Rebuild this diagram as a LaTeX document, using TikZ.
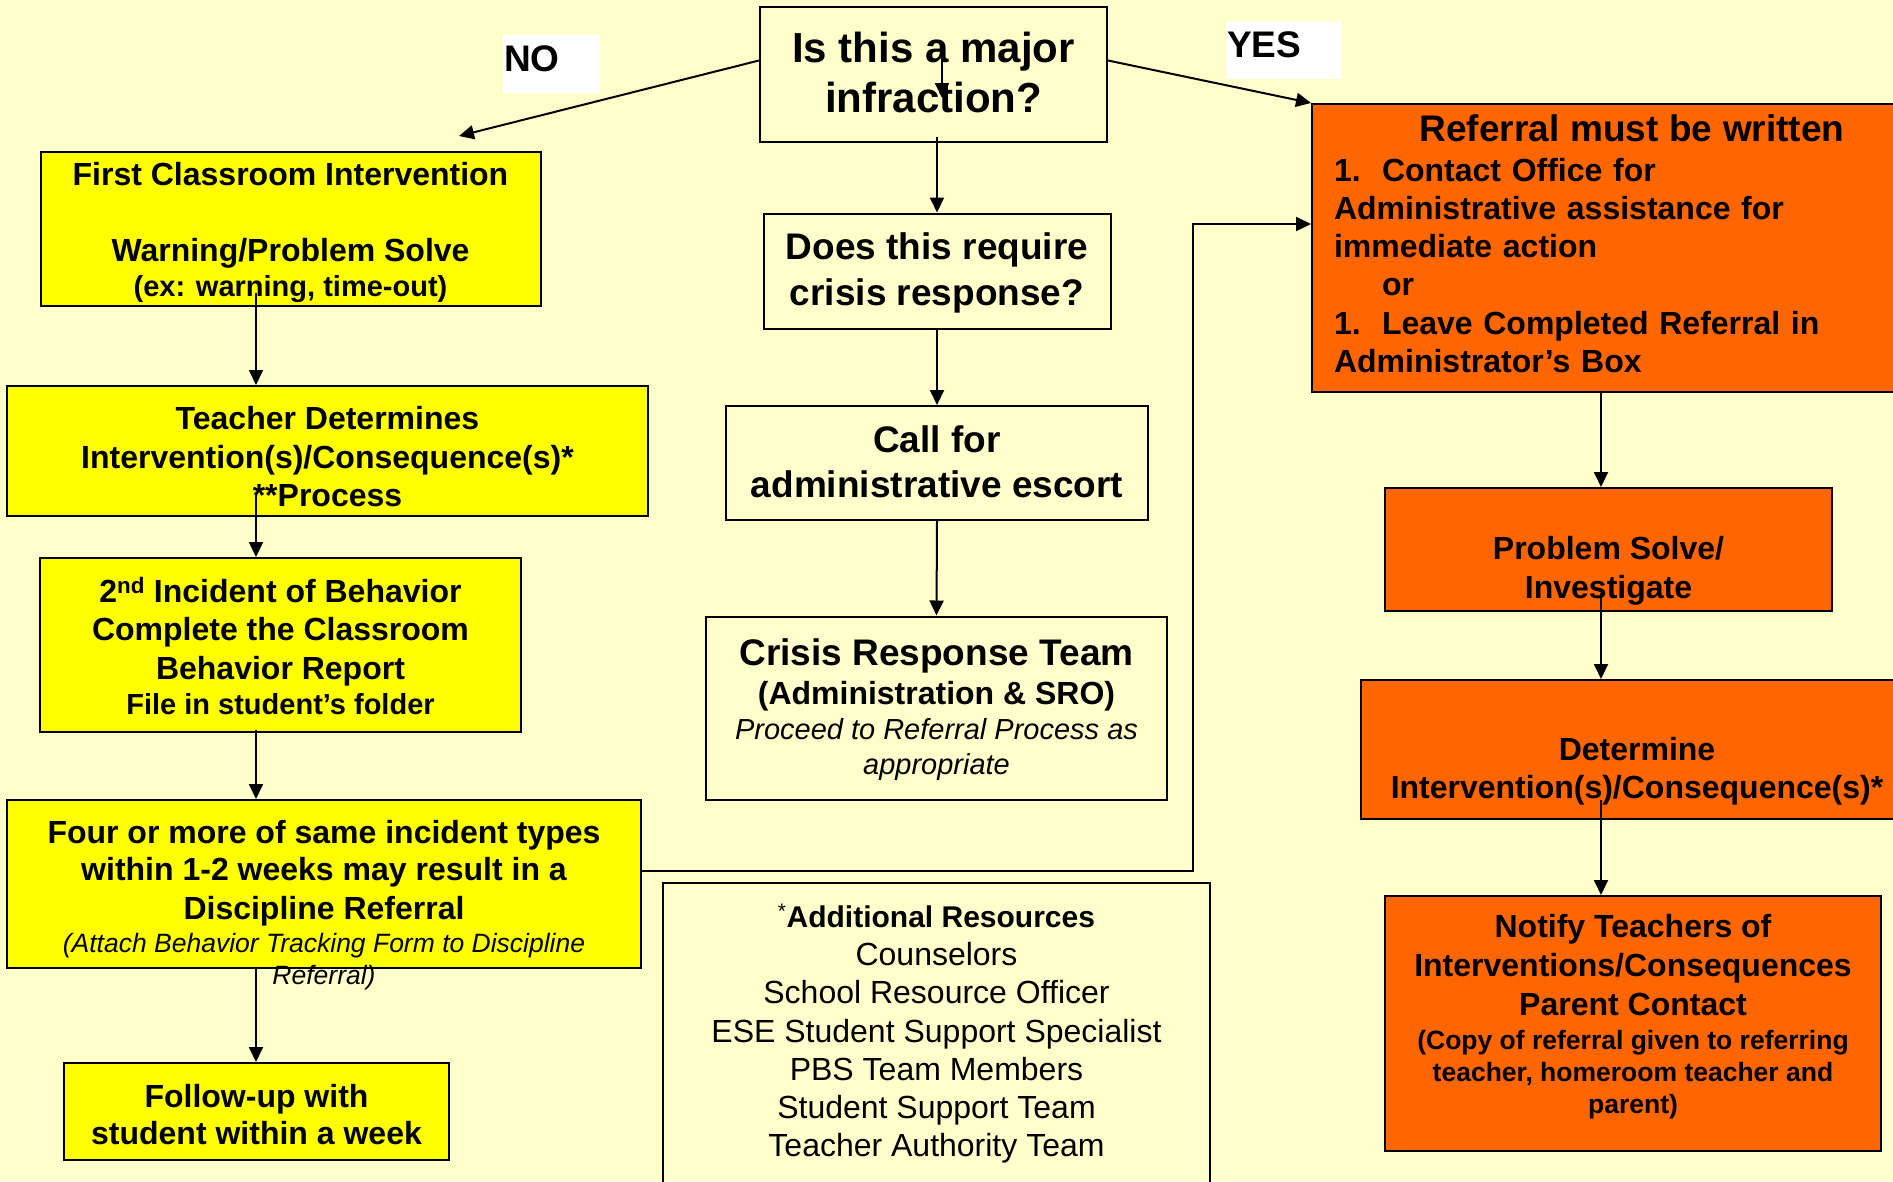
\documentclass[tikz,border=0pt]{standalone}
\usepackage{fontspec}
\setmainfont{Liberation Sans}
\usetikzlibrary{arrows.meta}
\definecolor{bgc}{HTML}{FFFFCC}
\definecolor{ylw}{HTML}{FFFF00}
\definecolor{orng}{HTML}{FF6600}
\newcommand\tup[1]{\rule{0pt}{#1pt}}
\newcommand\tdn[1]{\rule[-#1pt]{0pt}{#1pt}}
\begin{document}
\begin{tikzpicture}[x=1pt,y=-1pt,
  bx/.style={draw=black, line width=2pt, inner sep=0pt, align=center, font=\bfseries\fontsize{32}{38}\selectfont},
  ybx/.style={bx, fill=ylw},
  obx/.style={bx, fill=orng},
  wbx/.style={bx},
  arr/.style={line width=2pt, -{Triangle[length=15pt,width=14pt]}},
  lbl/.style={fill=white, inner xsep=1pt, inner ysep=7pt, text height=29pt, text depth=15pt, anchor=north west, align=left, font=\bfseries\fontsize{37}{44}\selectfont}
]
\useasboundingbox (0,0) rectangle (1893,1181);
\clip (0,0) rectangle (1893,1181);
\fill[bgc] (0,0) rectangle (1893,1181);

% labels
\node[lbl, text width=95pt] (nolbl) at (503,35) {NO};
\node[lbl, text width=113pt] (yeslbl) at (1226,21) {YES};

% centre column
\node[wbx, minimum width=347pt, minimum height=135pt, font=\bfseries\fontsize{42}{50}\selectfont] (maj) at (933.5,74.5) {\tup{40}Is this a major\\infraction?\tdn{15}};
\node[wbx, minimum width=347pt, minimum height=115pt, font=\bfseries\fontsize{37}{46}\selectfont] (does) at (937,271) {\tup{34}Does this require\\crisis response?\tdn{12}};
\node[wbx, minimum width=422pt, minimum height=114pt, font=\bfseries\fontsize{37}{45}\selectfont] (call) at (937,463) {\tup{35}Call for\\administrative escort\tdn{12}};
\node[wbx, minimum width=461pt, minimum height=183pt, font=\bfseries\fontsize{29}{35}\selectfont] (crisis) at (936.5,708) {{\fontsize{37}{35}\selectfont\tup{33}Crisis Response Team}\\[4pt]{\fontsize{32}{35}\selectfont(Administration \& SRO)}\\{\mdseries\itshape Proceed to Referral Process as}\\{\mdseries\itshape appropriate\tdn{10}}};
\node[wbx, minimum width=547pt, minimum height=302pt, font=\mdseries\fontsize{32}{38.2}\selectfont] (addl) at (936.5,1034) {\tup{26}{\bfseries\fontsize{30}{38.2}\selectfont{\mdseries\textsuperscript{*}}Additional Resources}\\Counselors\\School Resource Officer\\ESE Student Support Specialist\\PBS Team Members\\Student Support Team\\Teacher Authority Team\tdn{10}};

% right column
\node[obx, minimum width=640pt, minimum height=288pt, text width=596pt, align=left, font=\bfseries\fontsize{32}{38.3}\selectfont] (ref) at (1632,248) {\tup{29}\makebox[596pt][c]{\fontsize{37}{38.3}\selectfont Referral must be written}\\[1.7pt]
\makebox[48pt][l]{1.}Contact Office for\\
Administrative assistance for\\
immediate action\\
\hspace*{48pt}or\\
\makebox[48pt][l]{1.}Leave Completed Referral in\\
Administrator’s Box\tdn{11.5}};
\node[obx, minimum width=447pt, minimum height=123pt, font=\bfseries\fontsize{32}{39}\selectfont] (ps) at (1608.5,549.5) {\tup{68}Problem Solve/\\Investigate\tdn{10}};
\node[obx, minimum width=552pt, minimum height=139pt] (det) at (1637,749.5) {\tup{69}Determine\\Intervention(s)/Consequence(s)*\tdn{10}};
\node[obx, minimum width=496pt, minimum height=255pt, font=\bfseries\fontsize{26.5}{32}\selectfont] (notify) at (1633,1023.5) {{\fontsize{32}{32}\selectfont\tup{25}Notify Teachers of}\\[7pt]{\fontsize{32}{32}\selectfont Interventions/Consequences}\\[7pt]{\fontsize{32}{32}\selectfont Parent Contact}\\[2pt](Copy of referral given to referring\\[-0.5pt]teacher, homeroom teacher and\\parent)\tdn{21.5}};

% left column
\node[ybx, minimum width=500pt, minimum height=154pt] (fci) at (290.5,228.5) {\tup{33}First Classroom Intervention\\\mbox{}\\Warning/Problem Solve\\[-3pt]{\fontsize{29}{35}\selectfont(ex: warning, time-out)\tdn{8}}};
\node[ybx, minimum width=641pt, minimum height=130pt, font=\bfseries\fontsize{32}{38.5}\selectfont] (td) at (327.5,451) {\tup{43}Teacher Determines\\Intervention(s)/Consequence(s)*\\**Process\tdn{9}};
\node[ybx, minimum width=481pt, minimum height=174pt, font=\bfseries\fontsize{32}{38.5}\selectfont] (inc2) at (280.5,645) {\tup{36.5}2\textsuperscript{nd} Incident of Behavior\\Complete the Classroom\\Behavior Report\\[-3.5pt]{\fontsize{29}{35}\selectfont File in student’s folder\tdn{10}}};
\node[ybx, minimum width=634pt, minimum height=168pt] (four) at (324,884) {};
\node[inner sep=0pt, align=center, font=\bfseries\fontsize{26.5}{32}\selectfont] (fourtxt) at (324,903) {{\fontsize{32}{32}\selectfont\tup{30}Four or more of same incident types}\\[5pt]{\fontsize{32}{32}\selectfont within 1-2 weeks may result in a}\\[7pt]{\fontsize{32}{32}\selectfont Discipline Referral}\\[1pt]{\mdseries\itshape (Attach Behavior Tracking Form to Discipline}\\{\mdseries\itshape Referral)\tdn{8}}};
\node[ybx, minimum width=385pt, minimum height=97pt, font=\bfseries\fontsize{32}{37}\selectfont] (fu) at (256.5,1111.5) {\tup{39}Follow-up with\\student within a week\tdn{10}};

% coordinates for connector ends
\coordinate (noT) at (459,136);
\coordinate (mA) at (942,58);
\coordinate (mB) at (942,98);
\coordinate (l1) at (256,293);
\coordinate (l2) at (256,495);
\coordinate (l3) at (256,730);
\coordinate (l4) at (256,968);
\coordinate (r1) at (1601,392);
\coordinate (r2) at (1601,593);
\coordinate (r3) at (1601,800);
\coordinate (loopX) at (1193,550);

% connectors
\draw[arr] ([yshift=14pt]maj.west) -- (noT);
\draw[arr] ([yshift=14pt]maj.east) -- (ref.north west);
\draw[arr] (mA) -- (mB);
\draw[arr] ([yshift=6pt]maj.south -| does.north) -- (does.north);
\draw[arr] (does.south) -- (call.north);
\draw[arr] (call.south) -- (crisis.north);
\draw[arr] (l1) -- (l1 |- td.north);
\draw[arr] (l2) -- (l2 |- inc2.north);
\draw[arr] (l3) -- (l3 |- four.north);
\draw[arr] (l4) -- (l4 |- fu.north);
\draw[arr] (r1) -- (r1 |- ps.north);
\draw[arr] (r2) -- (r2 |- det.north);
\draw[arr] (r3) -- (r3 |- notify.north);
\draw[arr] ([yshift=13pt]four.east) -| (loopX) |- ([yshift=24pt]ref.west);
\end{tikzpicture}
\end{document}
